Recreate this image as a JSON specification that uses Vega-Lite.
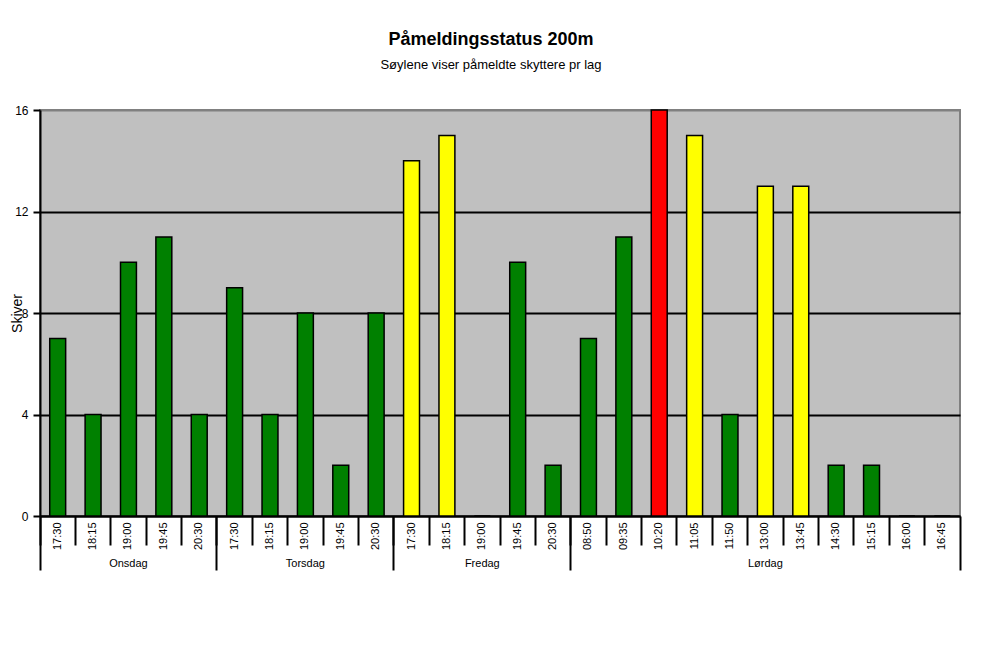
{
  "$schema": "https://vega.github.io/schema/vega-lite/v6.json",
  "width": 920,
  "height": 406,
  "autosize": {"type": "none"},
  "padding": {"left": 40, "top": 110, "right": 25, "bottom": 130},
  "background": "white",
  "title": {
    "text": "Påmeldingsstatus 200m",
    "subtitle": "Søylene viser påmeldte skyttere pr lag",
    "font": "Liberation Sans",
    "fontSize": 18,
    "fontWeight": "bold",
    "color": "black",
    "subtitleFont": "Liberation Sans",
    "subtitleFontSize": 13,
    "subtitleColor": "black",
    "anchor": "middle",
    "offset": 32,
    "subtitlePadding": 10,
    "dx": -9
  },
  "data": {
    "values": [
      {"dag": "Onsdag", "tid": "17:30", "antall": 7},
      {"dag": "Onsdag", "tid": "18:15", "antall": 4},
      {"dag": "Onsdag", "tid": "19:00", "antall": 10},
      {"dag": "Onsdag", "tid": "19:45", "antall": 11},
      {"dag": "Onsdag", "tid": "20:30", "antall": 4},
      {"dag": "Torsdag", "tid": "17:30", "antall": 9},
      {"dag": "Torsdag", "tid": "18:15", "antall": 4},
      {"dag": "Torsdag", "tid": "19:00", "antall": 8},
      {"dag": "Torsdag", "tid": "19:45", "antall": 2},
      {"dag": "Torsdag", "tid": "20:30", "antall": 8},
      {"dag": "Fredag", "tid": "17:30", "antall": 14},
      {"dag": "Fredag", "tid": "18:15", "antall": 15},
      {"dag": "Fredag", "tid": "19:00", "antall": 0},
      {"dag": "Fredag", "tid": "19:45", "antall": 10},
      {"dag": "Fredag", "tid": "20:30", "antall": 2},
      {"dag": "Lørdag", "tid": "08:50", "antall": 7},
      {"dag": "Lørdag", "tid": "09:35", "antall": 11},
      {"dag": "Lørdag", "tid": "10:20", "antall": 16},
      {"dag": "Lørdag", "tid": "11:05", "antall": 15},
      {"dag": "Lørdag", "tid": "11:50", "antall": 4},
      {"dag": "Lørdag", "tid": "13:00", "antall": 13},
      {"dag": "Lørdag", "tid": "13:45", "antall": 13},
      {"dag": "Lørdag", "tid": "14:30", "antall": 2},
      {"dag": "Lørdag", "tid": "15:15", "antall": 2},
      {"dag": "Lørdag", "tid": "16:00", "antall": 0},
      {"dag": "Lørdag", "tid": "16:45", "antall": 0}
    ]
  },
  "transform": [{"calculate": "datum.dag + '|' + datum.tid", "as": "lag"}],
  "layer": [
    {
      "mark": {"type": "bar", "opacity": 0},
      "encoding": {
        "x": {
          "field": "lag",
          "type": "nominal",
          "sort": null,
          "scale": {"paddingInner": 0, "paddingOuter": 0},
          "axis": {
            "orient": "bottom",
            "title": null,
            "labelExpr": "indexof(['Onsdag|19:00','Torsdag|19:00','Fredag|19:00','Lørdag|13:00'], datum.value) >= 0 ? split(datum.value, '|')[0] : ''",
            "labelAngle": 0,
            "labelAlign": "center",
            "labelBaseline": "middle",
            "labelPadding": -7,
            "labelFont": "Liberation Sans",
            "labelFontSize": 11,
            "labelColor": "black",
            "labelOverlap": false,
            "bandPosition": 0,
            "tickSize": 54,
            "tickWidth": 2,
            "tickColor": "black",
            "tickOpacity": {
              "condition": {
                "test": "indexof(['Onsdag|17:30','Torsdag|17:30','Fredag|17:30','Lørdag|08:50'], datum.value) >= 0",
                "value": 1
              },
              "value": 0
            },
            "domain": false,
            "grid": false
          }
        }
      }
    },
    {
      "mark": {"type": "bar", "opacity": 0},
      "encoding": {
        "x": {
          "field": "lag",
          "type": "nominal",
          "sort": null,
          "scale": {"paddingInner": 0, "paddingOuter": 0},
          "axis": {
            "orient": "bottom",
            "title": null,
            "labels": false,
            "bandPosition": 1,
            "tickSize": 54,
            "tickWidth": 2,
            "tickColor": "black",
            "tickOpacity": {
              "condition": {"test": "datum.value == 'Lørdag|16:45'", "value": 1},
              "value": 0
            },
            "domain": false,
            "grid": false
          }
        }
      }
    },
    {
      "mark": {"type": "bar", "stroke": "black", "strokeWidth": 1.5, "width": {"band": 0.45}},
      "encoding": {
        "x": {
          "field": "lag",
          "type": "nominal",
          "sort": null,
          "scale": {"paddingInner": 0, "paddingOuter": 0},
          "axis": {
            "orient": "bottom",
            "title": null,
            "labelExpr": "split(datum.value, '|')[1]",
            "labelAngle": -90,
            "labelAlign": "right",
            "labelBaseline": "middle",
            "labelPadding": -23,
            "labelFont": "Liberation Sans",
            "labelFontSize": 11,
            "labelColor": "black",
            "labelOverlap": false,
            "bandPosition": 0,
            "tickSize": 29,
            "tickWidth": 2,
            "tickColor": "black",
            "domainColor": "black",
            "domainWidth": 2,
            "grid": false
          }
        },
        "y": {
          "field": "antall",
          "type": "quantitative",
          "scale": {"domain": [0, 16], "nice": false},
          "axis": {
            "values": [0, 4, 8, 12, 16],
            "title": "Skiver",
            "titleFont": "Liberation Sans",
            "titleFontSize": 14,
            "titleFontWeight": "normal",
            "titleColor": "black",
            "titleAngle": -90,
            "titleX": -23,
            "titleY": 203,
            "titleAlign": "center",
            "titleBaseline": "middle",
            "labelFont": "Liberation Sans",
            "labelFontSize": 12,
            "labelColor": "black",
            "labelPadding": 5,
            "tickSize": 7,
            "tickWidth": 2,
            "tickColor": "black",
            "domainColor": "black",
            "domainWidth": 2,
            "gridColor": {
              "condition": {"test": "datum.value == 16", "value": "#808080"},
              "value": "black"
            },
            "gridWidth": 2
          }
        },
        "color": {
          "field": "antall",
          "type": "quantitative",
          "scale": {
            "type": "threshold",
            "domain": [13, 16],
            "range": ["#008000", "#FFFF00", "#FF0000"]
          },
          "legend": null
        }
      }
    }
  ],
  "resolve": {"axis": {"x": "independent"}},
  "config": {
    "view": {"fill": "#C0C0C0", "stroke": "#808080", "strokeWidth": 2}
  }
}
